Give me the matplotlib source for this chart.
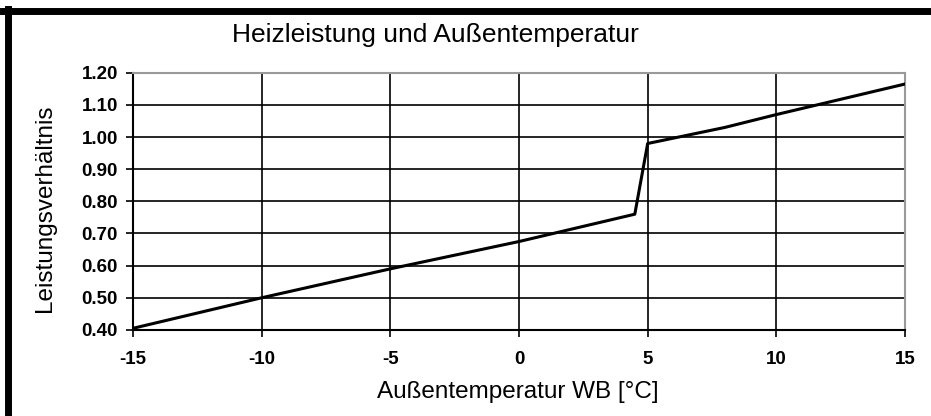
import matplotlib.pyplot as plt
from matplotlib.lines import Line2D

# data
temp = [-15, -10, -5, 0, 4.5, 5.0, 8, 10, 15]
ratio = [0.405, 0.50, 0.59, 0.675, 0.76, 0.98, 1.03, 1.07, 1.165]

x_ticks = [-15, -10, -5, 0, 5, 10, 15]
y_ticks = [0.40, 0.50, 0.60, 0.70, 0.80, 0.90, 1.00, 1.10, 1.20]

plt.rcParams['font.family'] = ['Liberation Sans', 'DejaVu Sans']

fig = plt.figure(figsize=(9.31, 4.16), dpi=100)
ax = fig.add_axes([0.143, 0.207, 0.829, 0.618])

ax.plot(temp, ratio, color='black', lw=2.2, zorder=3)

ax.set_xlim(-15, 15)
ax.set_ylim(0.40, 1.20)
ax.set_xticks(x_ticks)
ax.set_yticks(y_ticks)
ax.set_xticklabels([str(t) for t in x_ticks], fontweight='bold', fontsize=13.5)
ax.set_yticklabels([f'{v:.2f}' for v in y_ticks], fontweight='bold', fontsize=13.5)
ax.tick_params(axis='y', direction='out', length=5, width=1.2, color='black', pad=6)
ax.tick_params(axis='x', direction='out', length=5, width=1.2, color='black', pad=10)
ax.grid(True, color='black', lw=1.2)

for side in ['left', 'bottom']:
    ax.spines[side].set_color('black')
    ax.spines[side].set_linewidth(1.5)
for side in ['right', 'top']:
    ax.spines[side].set_color('#999999')
    ax.spines[side].set_linewidth(1.5)

ax.set_xlabel('Außentemperatur WB [°C]', fontsize=17.5)
ax.set_ylabel('Leistungsverhältnis', fontsize=17.5)
ax.xaxis.set_label_coords(0.499, -0.241)
ax.yaxis.set_label_coords(-0.114, 0.475)
ax.xaxis.label.set_va('center')
ax.yaxis.label.set_va('center')
fig.text(0.468, 0.916, 'Heizleistung und Außentemperatur', fontsize=19,
         ha='center', va='center')

# frame around the chart (left and top visible in reference)
fig.add_artist(Line2D([0.003, 1.0], [0.974, 0.974], color='black', lw=5,
                      transform=fig.transFigure))
fig.add_artist(Line2D([0.009, 0.009], [0.0, 0.978], color='black', lw=5,
                      transform=fig.transFigure))

fig.savefig('out.png', dpi=100)
